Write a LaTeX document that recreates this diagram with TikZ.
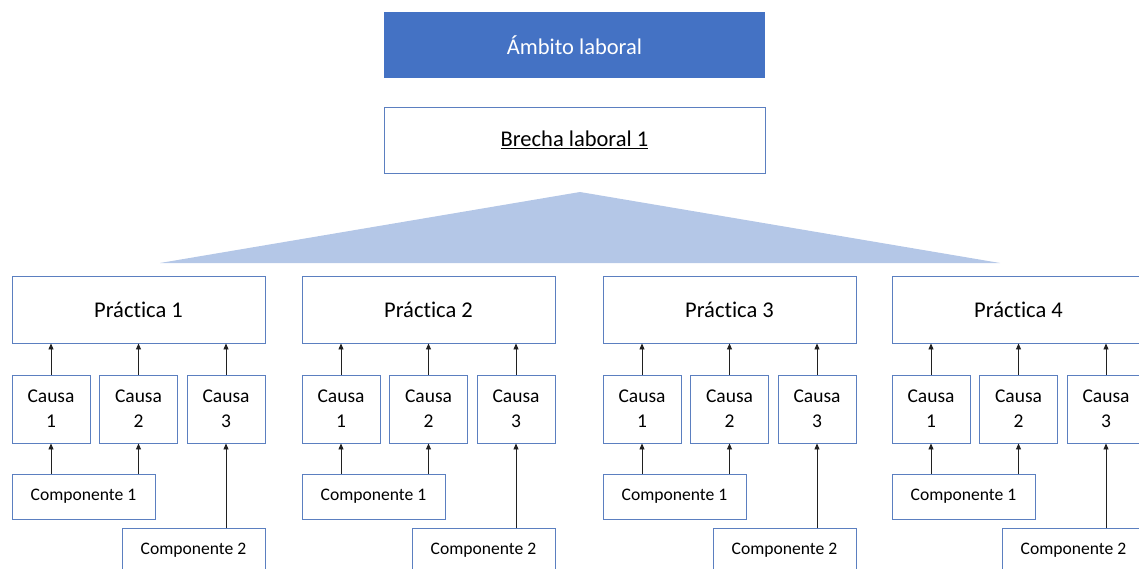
\documentclass[tikz,border=0pt]{standalone}
\usepackage{fontspec}
\setmainfont{Carlito}[Ligatures=NoCommon]
\usetikzlibrary{arrows.meta}
\definecolor{bl}{HTML}{4472C4}
\definecolor{bd}{HTML}{5B7FC0}
\definecolor{tri}{HTML}{B4C7E7}
\definecolor{arr}{HTML}{202020}
\tikzset{
  box/.style={draw=bd, line width=0.9pt, fill=white, inner sep=0pt, align=center},
  bigtxt/.style={font=\fontsize{22.5}{27}\selectfont},
  prac/.style={box, bigtxt, minimum width=253pt, minimum height=67pt},
  causa/.style={box, font=\fontsize{19.5}{25}\selectfont, minimum width=78pt, minimum height=68pt},
  comp/.style={box, font=\fontsize{17.6}{21}\selectfont, minimum width=143pt, minimum height=45pt},
  link/.style={draw=arr, line width=0.9pt, -{Triangle[length=6pt,width=5pt]}}
}
\begin{document}
\begin{tikzpicture}[x=1pt,y=1pt]
\useasboundingbox (0,0) rectangle (1139,-569);
\clip (0,0) rectangle (1139,-569);
\node[fill=bl, text=white, bigtxt, minimum width=381pt, minimum height=66pt, inner sep=0pt] (amb) at (574.5,-45) {Ámbito laboral};
\node[box, bigtxt, minimum width=381pt, minimum height=66pt] (brecha) at (574.5,-140) {\underline{Brecha laboral 1}};
\fill[tri] (580,-192) -- (1000,-263) -- (160,-263) -- cycle;
\foreach \g/\X in {1/12, 2/302, 3/603, 4/892}{
  \node[prac] (p\g) at (\X+126.5,-309.5) {Práctica \g};
  \node[causa] (c\g a) at (\X+39,-409) {Causa\\1};
  \node[causa] (c\g b) at (\X+126.5,-409) {Causa\\2};
  \node[causa] (c\g c) at (\X+214,-409) {Causa\\3};
  \node[comp] (k\g a) at (\X+71.5,-496.5) {\raisebox{-2pt}{Componente 1}};
  \node[comp] (k\g b) at (\X+181.5,-550.5) {\raisebox{-2pt}{Componente 2}};
  \draw[link] (c\g a.north) -- (p\g.south -| c\g a.north);
  \draw[link] (c\g b.north) -- (p\g.south -| c\g b.north);
  \draw[link] (c\g c.north) -- (p\g.south -| c\g c.north);
  \draw[link] (k\g a.north -| c\g a.south) -- (c\g a.south);
  \draw[link] (k\g a.north -| c\g b.south) -- (c\g b.south);
  \draw[link] (k\g b.north -| c\g c.south) -- (c\g c.south);
}
\end{tikzpicture}
\end{document}
